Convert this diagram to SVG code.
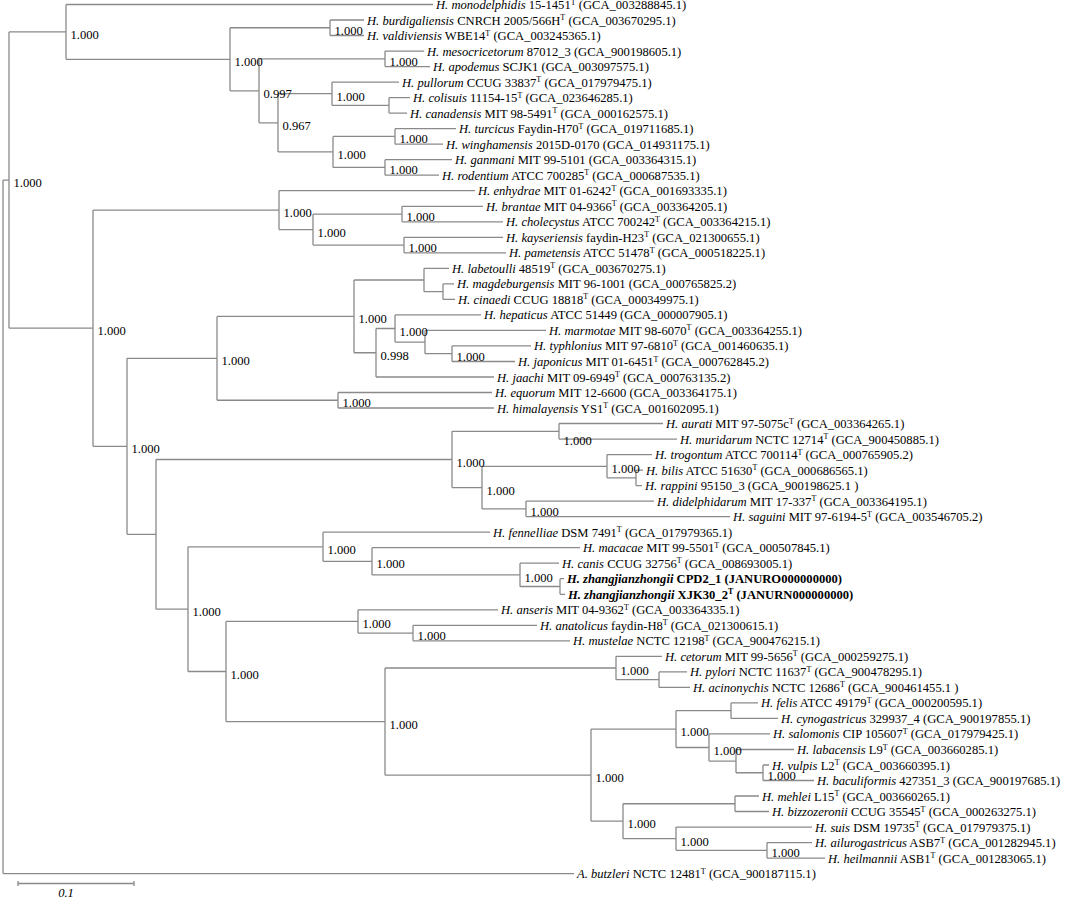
<svg xmlns="http://www.w3.org/2000/svg" width="1072" height="899" viewBox="0 0 1072 899">
<style>
text{font-family:"Liberation Serif","Times New Roman",serif;font-size:12.6px;fill:#000}
.i{font-style:italic}
.b{font-weight:bold}
.s{font-size:8px}
.br{fill:none;stroke:#8a8a8a;stroke-width:1.3}
</style>
<rect width="1072" height="899" fill="#fff"/>
<g id="connectors" class="br">
<path d="M3 180.05V873.6M3 180.05H9M3 873.6H574
M9 31.9V328.2M9 31.9H66M9 328.2H93
M66 4.5V59.3M66 4.5H433M66 59.3H230
M230 27.75V90.8M230 27.75H330M230 90.8H259
M330 20V35.5M330 20H364M330 35.5H364
M259 58.85V122.8M259 58.85H385M259 122.8H278
M385 51.1V66.6M385 51.1H424M385 66.6H430
M278 93.7V151.95M278 93.7H332M278 151.95H333
M332 82.1V105.35M332 82.1H399M332 105.35H389
M389 97.6V113.1M389 97.6H410M389 113.1H407
M333 136.45V167.45M333 136.45H395M333 167.45H385
M395 128.7V144.2M395 128.7H456M395 144.2H443
M385 159.7V175.2M385 159.7H452M385 175.2H439
M93 210.1V446.3M93 210.1H279M93 446.3H127
M279 190.7V229.55M279 190.7H475M279 229.55H313
M313 214.05V245.05M313 214.05H402M313 245.05H404
M402 206.3V221.8M402 206.3H483M402 221.8H503
M404 237.3V252.8M404 237.3H503M404 252.8H506
M127 358.3V534.3M127 358.3H217M127 534.3H156
M217 316.4V400.25M217 316.4H354M217 400.25H338
M354 280V352.75M354 280H424M354 352.75H376
M424 268.3V291.65M424 268.3H449M424 291.65H443
M443 283.9V299.4M443 283.9H454M443 299.4H455
M376 328.5V377M376 328.5H395M376 377H494
M395 314.9V342.05M395 314.9H481M395 342.05H425
M425 330.4V353.7M425 330.4H546M425 353.7H452
M452 345.9V361.5M452 345.9H531M452 361.5H515
M338 392.5V408M338 392.5H492M338 408H494
M156 459.5V609.2M156 459.5H452M156 609.2H188
M452 431.3V487.6M452 431.3H559M452 487.6H482
M559 423.5V439.1M559 423.5H663M559 439.1H677
M482 466.35V508.9M482 466.35H607M482 508.9H526
M607 454.6V477.85M607 454.6H652M607 477.85H636
M636 470.1V485.6M636 470.1H643M636 485.6H642
M526 501.1V516.7M526 501.1H654M526 516.7H730
M188 546.8V671.5M188 546.8H323M188 671.5H226
M323 532.2V561.3M323 532.2H490M323 561.3H372
M372 547.7V574.9M372 547.7H580M372 574.9H520
M520 563.2V586.5M520 563.2H559M520 586.5H560
M560 578.7V594.3M560 578.7H564M560 594.3H565
M226 621.4V721.6M226 621.4H358M226 721.6H385
M358 609.8V633.05M358 609.8H498M358 633.05H413
M413 625.3V640.8M413 625.3H537M413 640.8H570
M385 668V775.2M385 668H616M385 775.2H591
M616 656.3V679.65M616 656.3H662M616 679.65H659
M659 671.9V687.4M659 671.9H687M659 687.4H690
M591 729.1V821.2M591 729.1H676M591 821.2H623
M676 710.65V747.5M676 710.65H731M676 747.5H709
M731 702.9V718.4M731 702.9H758M731 718.4H778
M709 733.9V761.1M709 733.9H770M709 761.1H736
M736 749.5V772.75M736 749.5H794M736 772.75H763
M763 765V780.5M763 765H769M763 780.5H814
M623 803.75V838.7M623 803.75H735M623 838.7H676
M735 796V811.5M735 796H759M735 811.5H769
M676 827.1V850.35M676 827.1H812M676 850.35H767
M767 842.6V858.1M767 842.6H812M767 858.1H825"/>
</g>
<g id="support-values">
<text x="70.5" y="38.9">1.000</text>
<text x="13.5" y="187.05">1.000</text>
<text x="234.5" y="66.3">1.000</text>
<text x="334.5" y="34.75">1.000</text>
<text x="263.5" y="97.8">0.997</text>
<text x="389.5" y="65.85">1.000</text>
<text x="282.5" y="129.8">0.967</text>
<text x="336.5" y="100.7">1.000</text>
<text x="337.5" y="158.95">1.000</text>
<text x="399.5" y="143.45">1.000</text>
<text x="389.5" y="174.45">1.000</text>
<text x="97.5" y="335.2">1.000</text>
<text x="283.5" y="217.1">1.000</text>
<text x="317.5" y="236.55">1.000</text>
<text x="406.5" y="221.05">1.000</text>
<text x="408.5" y="252.05">1.000</text>
<text x="131.5" y="453.3">1.000</text>
<text x="221.5" y="365.3">1.000</text>
<text x="358.5" y="323.4">1.000</text>
<text x="380.5" y="359.75">0.998</text>
<text x="399.5" y="335.5">1.000</text>
<text x="456.5" y="360.7">1.000</text>
<text x="342.5" y="407.25">1.000</text>
<text x="456.5" y="466.5">1.000</text>
<text x="563.5" y="445.3">1.000</text>
<text x="486.5" y="494.6">1.000</text>
<text x="611.5" y="473.35">1.000</text>
<text x="530.5" y="515.9">1.000</text>
<text x="192.5" y="616.2">1.000</text>
<text x="327.5" y="553.8">1.000</text>
<text x="376.5" y="568.3">1.000</text>
<text x="524.5" y="581.9">1.000</text>
<text x="230.5" y="678.5">1.000</text>
<text x="362.5" y="628.4">1.000</text>
<text x="417.5" y="640.05">1.000</text>
<text x="389.5" y="728.6">1.000</text>
<text x="620.5" y="675">1.000</text>
<text x="595.5" y="782.2">1.000</text>
<text x="680.5" y="736.1">1.000</text>
<text x="713.5" y="754.5">1.000</text>
<text x="767.5" y="779.75">1.000</text>
<text x="627.5" y="828.2">1.000</text>
<text x="680.5" y="845.7">1.000</text>
<text x="771.5" y="857.35">1.000</text>
</g>
<g id="leaf-monodelphidis"><text x="436" y="9"><tspan class="i">H. monodelphidis</tspan> 15-1451<tspan class="s" dy="-4.5">T</tspan><tspan dy="4.5"> (GCA_003288845.1)</tspan></text></g>
<g id="leaf-burdigaliensis"><text x="367" y="24.5"><tspan class="i">H. burdigaliensis</tspan> CNRCH 2005/566H<tspan class="s" dy="-4.5">T</tspan><tspan dy="4.5"> (GCA_003670295.1)</tspan></text></g>
<g id="leaf-valdiviensis"><text x="367" y="40"><tspan class="i">H. valdiviensis</tspan> WBE14<tspan class="s" dy="-4.5">T</tspan><tspan dy="4.5"> (GCA_003245365.1)</tspan></text></g>
<g id="leaf-mesocricetorum"><text x="427" y="55.6"><tspan class="i">H. mesocricetorum</tspan> 87012_3 (GCA_900198605.1)</text></g>
<g id="leaf-apodemus"><text x="433" y="71.1"><tspan class="i">H. apodemus</tspan> SCJK1 (GCA_003097575.1)</text></g>
<g id="leaf-pullorum"><text x="402" y="86.6"><tspan class="i">H. pullorum</tspan> CCUG 33837<tspan class="s" dy="-4.5">T</tspan><tspan dy="4.5"> (GCA_017979475.1)</tspan></text></g>
<g id="leaf-colisuis"><text x="413" y="102.1"><tspan class="i">H. colisuis</tspan> 11154-15<tspan class="s" dy="-4.5">T</tspan><tspan dy="4.5"> (GCA_023646285.1)</tspan></text></g>
<g id="leaf-canadensis"><text x="410" y="117.6"><tspan class="i">H. canadensis</tspan> MIT 98-5491<tspan class="s" dy="-4.5">T</tspan><tspan dy="4.5"> (GCA_000162575.1)</tspan></text></g>
<g id="leaf-turcicus"><text x="459" y="133.2"><tspan class="i">H. turcicus</tspan> Faydin-H70<tspan class="s" dy="-4.5">T</tspan><tspan dy="4.5"> (GCA_019711685.1)</tspan></text></g>
<g id="leaf-winghamensis"><text x="446" y="148.7"><tspan class="i">H. winghamensis</tspan> 2015D-0170 (GCA_014931175.1)</text></g>
<g id="leaf-ganmani"><text x="455" y="164.2"><tspan class="i">H. ganmani</tspan> MIT 99-5101 (GCA_003364315.1)</text></g>
<g id="leaf-rodentium"><text x="442" y="179.7"><tspan class="i">H. rodentium</tspan> ATCC 700285<tspan class="s" dy="-4.5">T</tspan><tspan dy="4.5"> (GCA_000687535.1)</tspan></text></g>
<g id="leaf-enhydrae"><text x="478" y="195.2"><tspan class="i">H. enhydrae</tspan> MIT 01-6242<tspan class="s" dy="-4.5">T</tspan><tspan dy="4.5"> (GCA_001693335.1)</tspan></text></g>
<g id="leaf-brantae"><text x="486" y="210.8"><tspan class="i">H. brantae</tspan> MIT 04-9366<tspan class="s" dy="-4.5">T</tspan><tspan dy="4.5"> (GCA_003364205.1)</tspan></text></g>
<g id="leaf-cholecystus"><text x="506" y="226.3"><tspan class="i">H. cholecystus</tspan> ATCC 700242<tspan class="s" dy="-4.5">T</tspan><tspan dy="4.5"> (GCA_003364215.1)</tspan></text></g>
<g id="leaf-kayseriensis"><text x="506" y="241.8"><tspan class="i">H. kayseriensis</tspan> faydin-H23<tspan class="s" dy="-4.5">T</tspan><tspan dy="4.5"> (GCA_021300655.1)</tspan></text></g>
<g id="leaf-pametensis"><text x="509" y="257.3"><tspan class="i">H. pametensis</tspan> ATCC 51478<tspan class="s" dy="-4.5">T</tspan><tspan dy="4.5"> (GCA_000518225.1)</tspan></text></g>
<g id="leaf-labetoulli"><text x="452" y="272.8"><tspan class="i">H. labetoulli</tspan> 48519<tspan class="s" dy="-4.5">T</tspan><tspan dy="4.5"> (GCA_003670275.1)</tspan></text></g>
<g id="leaf-magdeburgensis"><text x="457" y="288.4"><tspan class="i">H. magdeburgensis</tspan> MIT 96-1001 (GCA_000765825.2)</text></g>
<g id="leaf-cinaedi"><text x="458" y="303.9"><tspan class="i">H. cinaedi</tspan> CCUG 18818<tspan class="s" dy="-4.5">T</tspan><tspan dy="4.5"> (GCA_000349975.1)</tspan></text></g>
<g id="leaf-hepaticus"><text x="484" y="319.4"><tspan class="i">H. hepaticus</tspan> ATCC 51449 (GCA_000007905.1)</text></g>
<g id="leaf-marmotae"><text x="549" y="334.9"><tspan class="i">H. marmotae</tspan> MIT 98-6070<tspan class="s" dy="-4.5">T</tspan><tspan dy="4.5"> (GCA_003364255.1)</tspan></text></g>
<g id="leaf-typhlonius"><text x="534" y="350.4"><tspan class="i">H. typhlonius</tspan> MIT 97-6810<tspan class="s" dy="-4.5">T</tspan><tspan dy="4.5"> (GCA_001460635.1)</tspan></text></g>
<g id="leaf-japonicus"><text x="518" y="366"><tspan class="i">H. japonicus</tspan> MIT 01-6451<tspan class="s" dy="-4.5">T</tspan><tspan dy="4.5"> (GCA_000762845.2)</tspan></text></g>
<g id="leaf-jaachi"><text x="497" y="381.5"><tspan class="i">H. jaachi</tspan> MIT 09-6949<tspan class="s" dy="-4.5">T</tspan><tspan dy="4.5"> (GCA_000763135.2)</tspan></text></g>
<g id="leaf-equorum"><text x="495" y="397"><tspan class="i">H. equorum</tspan> MIT 12-6600 (GCA_003364175.1)</text></g>
<g id="leaf-himalayensis"><text x="497" y="412.5"><tspan class="i">H. himalayensis</tspan> YS1<tspan class="s" dy="-4.5">T</tspan><tspan dy="4.5"> (GCA_001602095.1)</tspan></text></g>
<g id="leaf-aurati"><text x="666" y="428"><tspan class="i">H. aurati</tspan> MIT 97-5075c<tspan class="s" dy="-4.5">T</tspan><tspan dy="4.5"> (GCA_003364265.1)</tspan></text></g>
<g id="leaf-muridarum"><text x="680" y="443.6"><tspan class="i">H. muridarum</tspan> NCTC 12714<tspan class="s" dy="-4.5">T</tspan><tspan dy="4.5"> (GCA_900450885.1)</tspan></text></g>
<g id="leaf-trogontum"><text x="655" y="459.1"><tspan class="i">H. trogontum</tspan> ATCC 700114<tspan class="s" dy="-4.5">T</tspan><tspan dy="4.5"> (GCA_000765905.2)</tspan></text></g>
<g id="leaf-bilis"><text x="646" y="474.6"><tspan class="i">H. bilis</tspan> ATCC 51630<tspan class="s" dy="-4.5">T</tspan><tspan dy="4.5"> (GCA_000686565.1)</tspan></text></g>
<g id="leaf-rappini"><text x="645" y="490.1"><tspan class="i">H. rappini</tspan> 95150_3 (GCA_900198625.1 )</text></g>
<g id="leaf-didelphidarum"><text x="657" y="505.6"><tspan class="i">H. didelphidarum</tspan> MIT 17-337<tspan class="s" dy="-4.5">T</tspan><tspan dy="4.5"> (GCA_003364195.1)</tspan></text></g>
<g id="leaf-saguini"><text x="733" y="521.2"><tspan class="i">H. saguini</tspan> MIT 97-6194-5<tspan class="s" dy="-4.5">T</tspan><tspan dy="4.5"> (GCA_003546705.2)</tspan></text></g>
<g id="leaf-fennelliae"><text x="493" y="536.7"><tspan class="i">H. fennelliae</tspan> DSM 7491<tspan class="s" dy="-4.5">T</tspan><tspan dy="4.5"> (GCA_017979365.1)</tspan></text></g>
<g id="leaf-macacae"><text x="583" y="552.2"><tspan class="i">H. macacae</tspan> MIT 99-5501<tspan class="s" dy="-4.5">T</tspan><tspan dy="4.5"> (GCA_000507845.1)</tspan></text></g>
<g id="leaf-canis"><text x="562" y="567.7"><tspan class="i">H. canis</tspan> CCUG 32756<tspan class="s" dy="-4.5">T</tspan><tspan dy="4.5"> (GCA_008693005.1)</tspan></text></g>
<g id="leaf-zhangjianzhongii-CPD2_1"><text x="567" y="583.2" class="b"><tspan class="i">H. zhangjianzhongii</tspan> CPD2_1 (JANURO000000000)</text></g>
<g id="leaf-zhangjianzhongii-XJK30_2"><text x="568" y="598.8" class="b"><tspan class="i">H. zhangjianzhongii</tspan> XJK30_2<tspan class="s" dy="-4.5">T</tspan><tspan dy="4.5"> (JANURN000000000)</tspan></text></g>
<g id="leaf-anseris"><text x="501" y="614.3"><tspan class="i">H. anseris</tspan> MIT 04-9362<tspan class="s" dy="-4.5">T</tspan><tspan dy="4.5"> (GCA_003364335.1)</tspan></text></g>
<g id="leaf-anatolicus"><text x="540" y="629.8"><tspan class="i">H. anatolicus</tspan> faydin-H8<tspan class="s" dy="-4.5">T</tspan><tspan dy="4.5"> (GCA_021300615.1)</tspan></text></g>
<g id="leaf-mustelae"><text x="573" y="645.3"><tspan class="i">H. mustelae</tspan> NCTC 12198<tspan class="s" dy="-4.5">T</tspan><tspan dy="4.5"> (GCA_900476215.1)</tspan></text></g>
<g id="leaf-cetorum"><text x="665" y="660.8"><tspan class="i">H. cetorum</tspan> MIT 99-5656<tspan class="s" dy="-4.5">T</tspan><tspan dy="4.5"> (GCA_000259275.1)</tspan></text></g>
<g id="leaf-pylori"><text x="690" y="676.4"><tspan class="i">H. pylori</tspan> NCTC 11637<tspan class="s" dy="-4.5">T</tspan><tspan dy="4.5"> (GCA_900478295.1)</tspan></text></g>
<g id="leaf-acinonychis"><text x="693" y="691.9"><tspan class="i">H. acinonychis</tspan> NCTC 12686<tspan class="s" dy="-4.5">T</tspan><tspan dy="4.5"> (GCA_900461455.1 )</tspan></text></g>
<g id="leaf-felis"><text x="761" y="707.4"><tspan class="i">H. felis</tspan> ATCC 49179<tspan class="s" dy="-4.5">T</tspan><tspan dy="4.5"> (GCA_000200595.1)</tspan></text></g>
<g id="leaf-cynogastricus"><text x="781" y="722.9"><tspan class="i">H. cynogastricus</tspan> 329937_4 (GCA_900197855.1)</text></g>
<g id="leaf-salomonis"><text x="773" y="738.4"><tspan class="i">H. salomonis</tspan> CIP 105607<tspan class="s" dy="-4.5">T</tspan><tspan dy="4.5"> (GCA_017979425.1)</tspan></text></g>
<g id="leaf-labacensis"><text x="797" y="754"><tspan class="i">H. labacensis</tspan> L9<tspan class="s" dy="-4.5">T</tspan><tspan dy="4.5"> (GCA_003660285.1)</tspan></text></g>
<g id="leaf-vulpis"><text x="772" y="769.5"><tspan class="i">H. vulpis</tspan> L2<tspan class="s" dy="-4.5">T</tspan><tspan dy="4.5"> (GCA_003660395.1)</tspan></text></g>
<g id="leaf-baculiformis"><text x="817" y="785"><tspan class="i">H. baculiformis</tspan> 427351_3 (GCA_900197685.1)</text></g>
<g id="leaf-mehlei"><text x="762" y="800.5"><tspan class="i">H. mehlei</tspan> L15<tspan class="s" dy="-4.5">T</tspan><tspan dy="4.5"> (GCA_003660265.1)</tspan></text></g>
<g id="leaf-bizzozeronii"><text x="772" y="816"><tspan class="i">H. bizzozeronii</tspan> CCUG 35545<tspan class="s" dy="-4.5">T</tspan><tspan dy="4.5"> (GCA_000263275.1)</tspan></text></g>
<g id="leaf-suis"><text x="815" y="831.6"><tspan class="i">H. suis</tspan> DSM 19735<tspan class="s" dy="-4.5">T</tspan><tspan dy="4.5"> (GCA_017979375.1)</tspan></text></g>
<g id="leaf-ailurogastricus"><text x="815" y="847.1"><tspan class="i">H. ailurogastricus</tspan> ASB7<tspan class="s" dy="-4.5">T</tspan><tspan dy="4.5"> (GCA_001282945.1)</tspan></text></g>
<g id="leaf-heilmannii"><text x="828" y="862.6"><tspan class="i">H. heilmannii</tspan> ASB1<tspan class="s" dy="-4.5">T</tspan><tspan dy="4.5"> (GCA_001283065.1)</tspan></text></g>
<g id="leaf-butzleri"><text x="577" y="878.1"><tspan class="i">A. butzleri</tspan> NCTC 12481<tspan class="s" dy="-4.5">T</tspan><tspan dy="4.5"> (GCA_900187115.1)</tspan></text></g>
<g id="scale-bar">
<path class="br" d="M18 883.5H134M18 881V886M134 881V886"/>
<text x="66" y="897" class="i" text-anchor="middle">0.1</text>
</g>
</svg>
